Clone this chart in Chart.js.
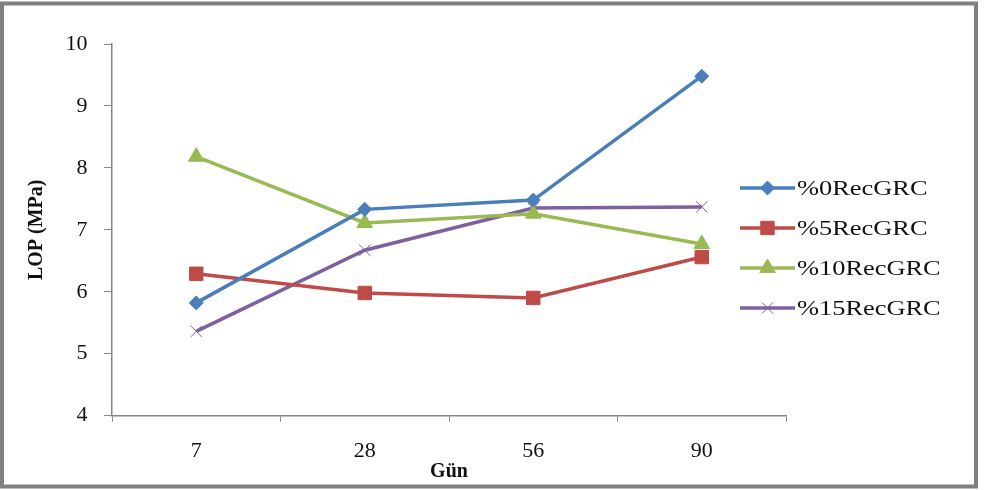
<!DOCTYPE html>
<html>
<head>
<meta charset="utf-8">
<script src="https://cdn.jsdelivr.net/npm/chart.js@4/dist/chart.umd.min.js"></script>
<style>
  body { margin: 0; background: #fff; }
  #wrap { width: 984px; height: 490px; }
</style>
</head>
<body>
<div id="wrap"><canvas id="lopChart" width="984" height="490"></canvas></div>
<script>
// LOP values per curing day
const days = ['7', '28', '56', '90'];
const rec0 = [5.82, 7.33, 7.48, 9.48];
const rec5 = [6.29, 5.98, 5.90, 6.56];
const rec10 = [8.18, 7.11, 7.26, 6.77];
const rec15 = [5.36, 6.67, 7.35, 7.37];
const seriesNames = ['%0RecGRC', '%5RecGRC', '%10RecGRC', '%15RecGRC'];
const yTicks = [4, 5, 6, 7, 8, 9, 10];

const serif = "'Liberation Serif', 'Times New Roman', serif";

// white page + grey frame
const framePlugin = {
    id: 'frame',
    beforeDraw(chart) {
        const ctx = chart.ctx;
        ctx.save();
        ctx.fillStyle = '#fff';
        ctx.fillRect(0, 0, chart.width, chart.height);
        ctx.strokeStyle = '#808080';
        ctx.lineWidth = 4;
        ctx.strokeRect(2, 3.5, 974, 483);
        ctx.restore();
    }
};

// Excel-like legend: line with marker, then the name
const sideLegend = {
    id: 'sideLegend',
    afterDraw(chart) {
        const ctx = chart.ctx;
        const x0 = 740, x1 = 795, ys = [188, 228, 268, 308];
        chart.data.datasets.forEach(function(ds, i){
            const y = ys[i];
            ctx.save();
            ctx.strokeStyle = ds.borderColor;
            ctx.lineWidth = ds.borderWidth;
            ctx.beginPath();
            ctx.moveTo(x0, y);
            ctx.lineTo(x1, y);
            ctx.stroke();
            ctx.fillStyle = ds.pointBackgroundColor;
            ctx.strokeStyle = ds.pointBorderColor;
            ctx.lineWidth = ds.pointBorderWidth;
            Chart.helpers.drawPoint(ctx, {
                pointStyle: ds.pointStyle,
                rotation: 0,
                radius: ds.pointRadius,
                borderWidth: ds.pointBorderWidth
            }, (x0 + x1) / 2, y);
            ctx.fillStyle = '#111';
            ctx.font = '22px ' + serif;
            ctx.textBaseline = 'middle';
            ctx.translate(x1 + 2, y + 1);
            ctx.scale(1.2, 1);
            ctx.fillText(ds.label, 0, 0);
            ctx.restore();
        });
    }
};

function series(label, data, colour, style, radius, pbw){
    return {
        label: label,
        data: data,
        borderColor: colour,
        backgroundColor: colour,
        borderWidth: 3.5,
        tension: 0,
        pointStyle: style,
        pointRadius: radius,
        pointHoverRadius: radius,
        pointBackgroundColor: colour,
        pointBorderColor: colour,
        pointBorderWidth: pbw
    };
}

const ctx = document.getElementById('lopChart').getContext('2d');
const lopChart = new Chart(ctx, {
    type: 'line',
    data: {
        labels: days,
        datasets: [
            series(seriesNames[0], rec0, '#4a7ebb', 'rectRot', 7, 1),
            series(seriesNames[1], rec5, '#be4b48', 'rect', 9.5, 1),
            series(seriesNames[2], rec10, '#98b954', 'triangle', 9, 1),
            series(seriesNames[3], rec15, '#7d60a0', 'crossRot', 8, 1)
        ]
    },
    options: {
        responsive: false,
        animation: false,
        layout: { padding: { left: 25, right: 198, top: 44, bottom: 6 } },
        plugins: {
            legend: { display: false },
            tooltip: { enabled: false }
        },
        scales: {
            x: {
                offset: true,
                grid: { offset: true, drawOnChartArea: false, tickLength: 6, color: '#868686' },
                border: { color: '#868686', width: 1.5 },
                ticks: { color: '#111', font: { family: serif, size: 22 }, padding: 16 },
                title: {
                    display: true, text: 'Gün', color: '#111',
                    font: { family: serif, size: 20, weight: 'bold' },
                    padding: { top: -20, bottom: 0 }
                }
            },
            y: {
                min: 4,
                max: 10,
                afterBuildTicks(axis){ axis.ticks = yTicks.map(v => ({ value: v })); },
                grid: { drawOnChartArea: false, tickLength: 8, color: '#868686' },
                border: { color: '#868686', width: 1.5 },
                ticks: { color: '#111', font: { family: serif, size: 22 }, padding: 16.5 },
                title: {
                    display: true, text: 'LOP (MPa)', color: '#111',
                    font: { family: serif, size: 20, weight: 'bold' },
                    padding: { top: 0, bottom: 0 }
                }
            }
        }
    },
    plugins: [framePlugin, sideLegend]
});
</script>
</body>
</html>
